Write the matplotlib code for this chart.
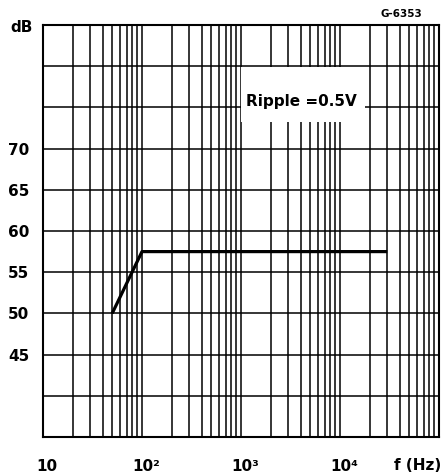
import matplotlib
matplotlib.use("Agg")
import matplotlib.pyplot as plt
import matplotlib.transforms as mtransforms
from matplotlib.patches import Rectangle
from matplotlib.ticker import LogLocator, NullFormatter, FixedLocator

# ripple rejection curve
freq_hz = [50, 100, 30000]
rejection_db = [50, 57.5, 57.5]

x_ticks = [10, 100, 1000, 10000]
x_labels = ["10", "10²", "10³", "10⁴"]
y_ticks = [45, 50, 55, 60, 65, 70]
y_grid = [35, 40, 45, 50, 55, 60, 65, 70, 75, 80, 85]

plt.rcParams["font.family"] = ["DejaVu Sans"]
fig = plt.figure(figsize=(4.45, 4.76), dpi=100)
ax = fig.add_axes([0.0966, 0.0819, 0.8899, 0.8656])

ax.set_xscale("log")
ax.set_xlim(10, 1e5)
ax.set_ylim(35, 85)

# grid: every k*10^n vertically, every 5 dB horizontally
ax.xaxis.set_major_locator(FixedLocator(x_ticks))
ax.xaxis.set_minor_locator(LogLocator(base=10, subs=range(1, 10), numticks=50))
ax.xaxis.set_minor_formatter(NullFormatter())
ax.yaxis.set_major_locator(FixedLocator(y_ticks))
ax.yaxis.set_minor_locator(FixedLocator(y_grid))
ax.set_axisbelow(True)
ax.grid(True, which="both", axis="both", color="black", lw=1.1)
ax.tick_params(which="both", length=0)

ax.set_xticklabels(x_labels, fontsize=11, fontweight="bold")
ax.set_yticklabels([str(v) for v in y_ticks], fontsize=11, fontweight="bold")
ax.tick_params(axis="x", pad=16)
ax.tick_params(axis="y", pad=10)
off = mtransforms.ScaledTranslation(4 / 100, 0, fig.dpi_scale_trans)
for lbl in ax.get_xticklabels():
    lbl.set_transform(lbl.get_transform() + off)

for s in ax.spines.values():
    s.set_linewidth(1.5)

# label box blanks the grid behind it
ax.add_patch(Rectangle((1000, 73.2), 18000 - 1000, 79.85 - 73.2,
                       facecolor="white", edgecolor="none", zorder=1))
ax.text(4100, 75.7, "Ripple =0.5V", fontsize=11, fontweight="bold",
        ha="center", va="center", zorder=2)

ax.plot(freq_hz, rejection_db, color="black", lw=2.3, zorder=3,
        solid_capstyle="butt")

ax.text(-0.027, 0.993, "dB", transform=ax.transAxes, fontsize=11,
        fontweight="bold", ha="right", va="center")
ax.text(0.947, -0.068, "f (Hz)", transform=ax.transAxes, fontsize=11,
        fontweight="bold", ha="center", va="center")
ax.text(0.906, 1.026, "G-6353", transform=ax.transAxes, fontsize=7.5,
        fontweight="bold", ha="center", va="center")

fig.savefig("out.png", dpi=100)
